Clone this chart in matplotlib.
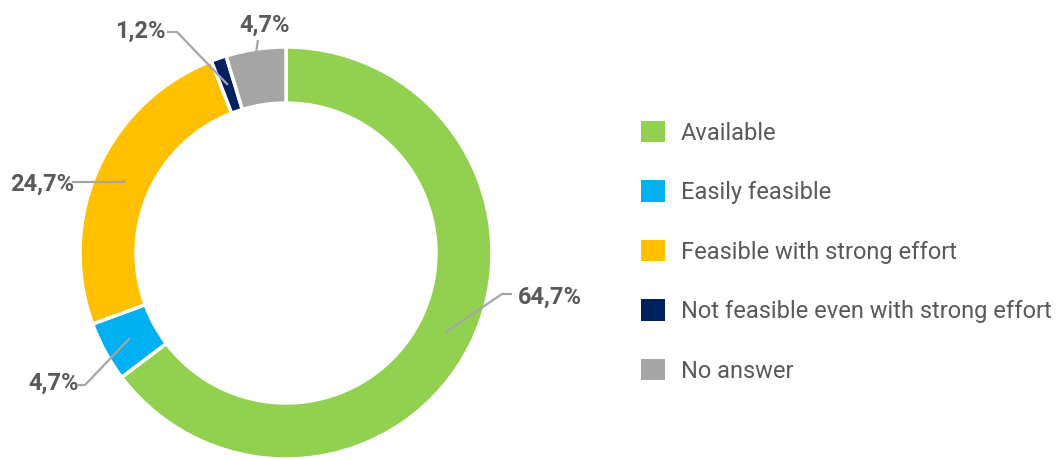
import numpy as np
import matplotlib
matplotlib.use('Agg')
import matplotlib.pyplot as plt
from matplotlib.patches import Patch

plt.rcParams['font.family'] = ['Roboto', 'DejaVu Sans']

# 数据
categories = ['Available', 'Easily feasible', 'Feasible with strong effort',
              'Not feasible even with strong effort', 'No answer']
shares = [64.7, 4.7, 24.7, 1.2, 4.7]
share_labels = ['64,7%', '4,7%', '24,7%', '1,2%', '4,7%']
colors = ['#92D050', '#00B0F0', '#FFC000', '#002060', '#A5A5A5']

text_color = '#595959'
line_color = '#A5A5A5'

W, H = 1059, 459
cx, cy, R = 286, 253, 206   # 圆心和半径（像素）


def px(x, y):
    # 像素坐标 -> 数据坐标（半径 = 1）
    return (x - cx) / R, (cy - y) / R


fig = plt.figure(figsize=(W / 100, H / 100), dpi=100)
ax = fig.add_axes([0, 0, 1, 1])

ring = 0.272
wedges, _ = ax.pie(shares, colors=colors, startangle=90, counterclock=False,
                   radius=1.0,
                   wedgeprops=dict(width=ring, edgecolor='white', linewidth=2.5))

ax.set_xlim(-cx / R, (W - cx) / R)
ax.set_ylim(-(H - cy) / R, cy / R)
ax.set_aspect('equal')
ax.axis('off')

# 引线: (起点半径, 折点, 终点, 文字位置, 对齐)
leaders = [
    (1 - ring / 2, (502, 294), (512, 294), (518, 297), 'left'),
    (1 - ring / 2, (85, 385), (78, 385), (79, 383), 'right'),
    (1 - ring / 2, (110, 182), (72, 182), (74, 184), 'right'),
    (1 - ring / 2, (177, 32), (167, 32), (166, 31), 'right'),
    (0.985, (258, 40), (258, 40), (265, 25), 'center'),
]

for w, lab, (r0, elbow, end, tpos, ha) in zip(wedges, share_labels, leaders):
    ang = np.deg2rad((w.theta1 + w.theta2) / 2)
    x0, y0 = r0 * np.cos(ang), r0 * np.sin(ang)
    ex, ey = px(*elbow)
    fx, fy = px(*end)
    if lab == '24,7%':
        ex, ey = x0, ey
    ax.plot([x0, ex, fx], [y0, ey, fy], color=line_color, lw=1.6,
            solid_capstyle='butt', clip_on=False)
    tx, ty = px(*tpos)
    ax.text(tx, ty, lab, ha=ha, va='center', fontsize=17, fontweight='bold',
            color=text_color)

handles = [Patch(facecolor=c, edgecolor='none') for c in colors]
leg = fig.legend(handles, categories, loc='upper left',
                 bbox_to_anchor=(641 / W, 1 - 121 / H), frameon=False,
                 fontsize=17, handlelength=1.02, handleheight=1.02,
                 handletextpad=0.68, labelspacing=1.51, borderpad=0,
                 borderaxespad=0)
for t in leg.get_texts():
    t.set_color(text_color)

fig.savefig('out.png', dpi=100, facecolor='white')
